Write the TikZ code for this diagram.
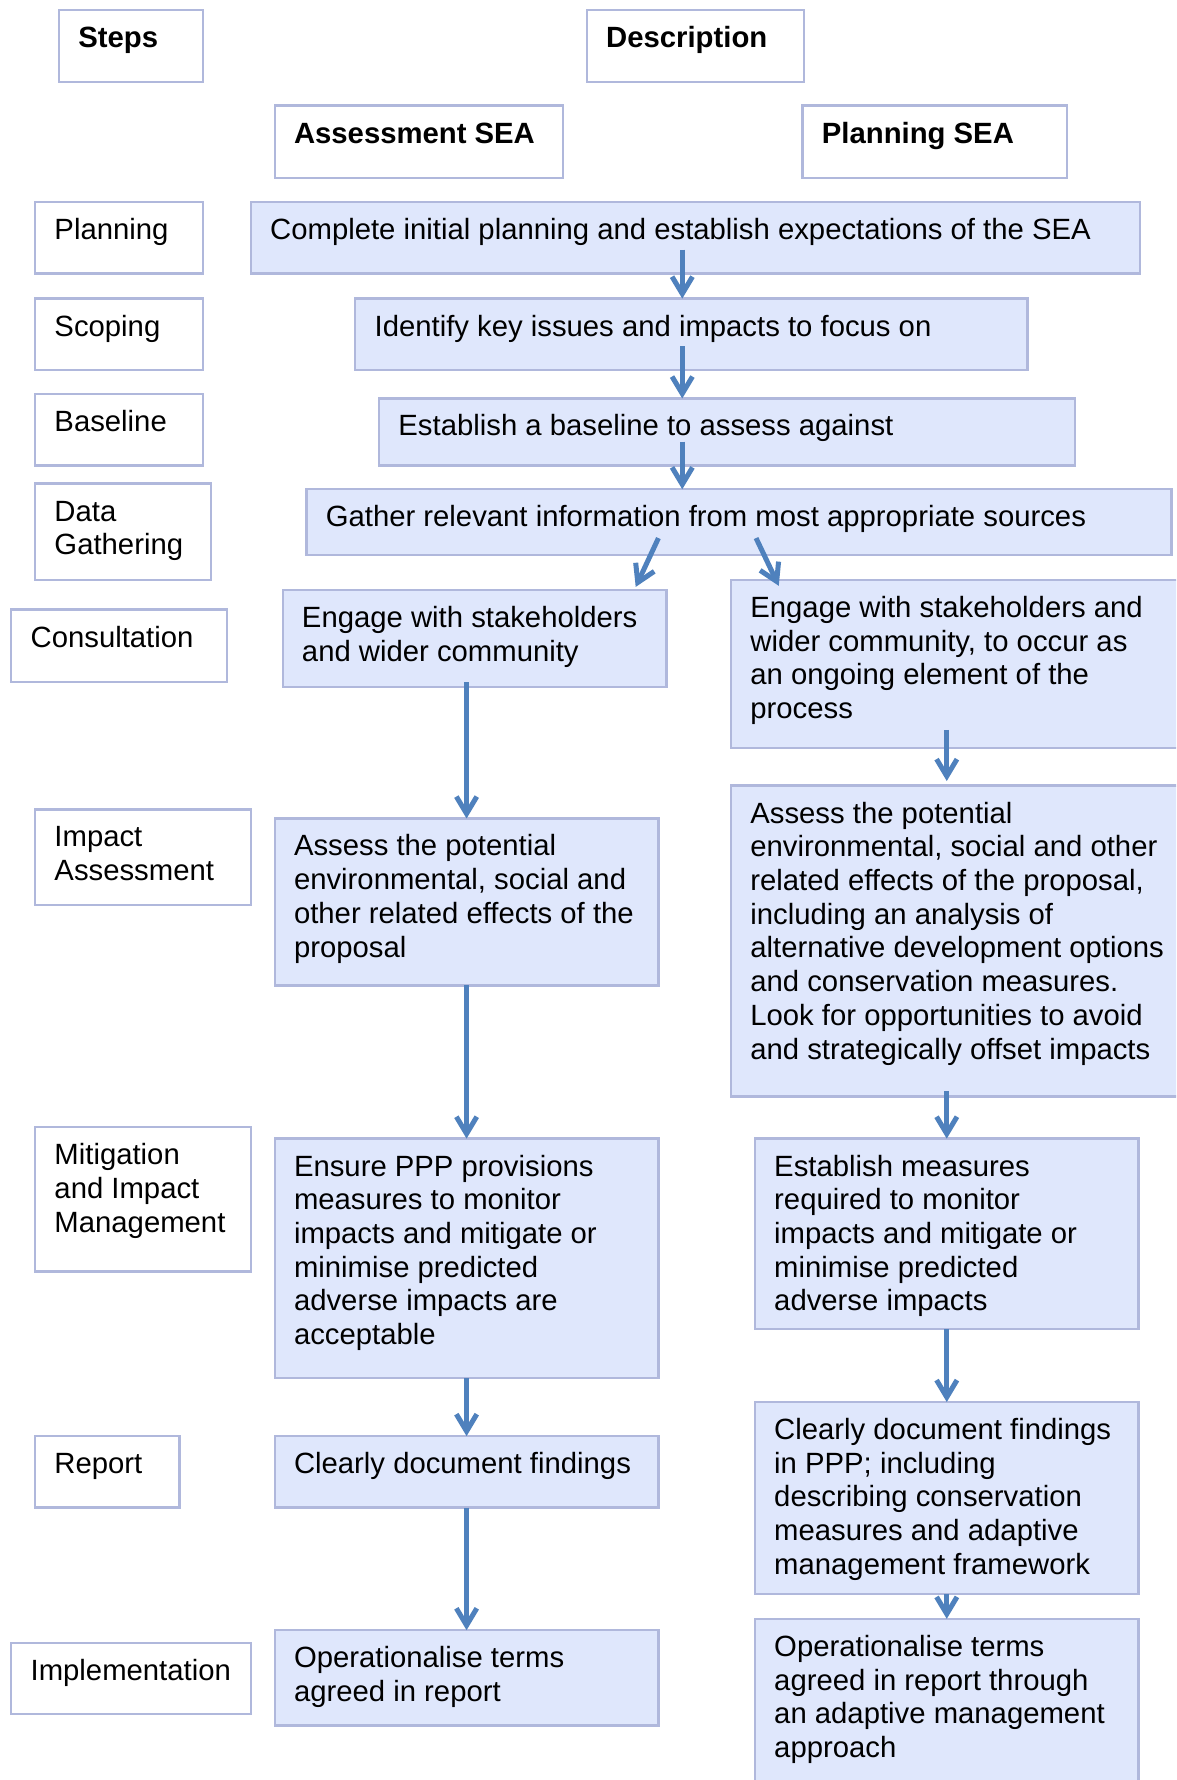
\documentclass[tikz,border=0pt]{standalone}
\usepackage{fontspec}
\setmainfont{Liberation Sans}
\usetikzlibrary{arrows.meta,calc}

\definecolor{boxfill}{RGB}{223,231,252}
\definecolor{boxline}{RGB}{176,184,220}
\definecolor{flow}{RGB}{79,129,189}

\tikzset{
  cell/.style={rectangle, draw=boxline, line width=1pt, inner sep=0pt, outer sep=0pt},
  stepcell/.style={cell, fill=white},
  flowcell/.style={cell, fill=boxfill},
  txt/.style={inner sep=0pt, outer sep=0pt, font=\fontsize{12.9pt}{14.85pt}\selectfont},
  arr/.style={draw=flow, line width=2.2pt, -{Straight Barb[length=7.5pt,width=9pt]}},
}

% left-aligned lines, baseline of the box = baseline of the first line
\newcommand\tlines[1]{\vtop{\let\\\cr\halign{##\hfil\cr#1\crcr}}}

% \mkbox{style}{name}{x1}{y1}{x2}{y2}{text}
\newcommand\mkbox[7]{%
  \node[#1, anchor=north west,
        minimum width={(#5-#3)*0.5pt}, minimum height={(#6-#4)*0.5pt}] (#2) at (#3,#4) {};
  \node[txt, anchor=base west] (#2-t) at ($(#2.north west)+(17,33)$) {\tlines{#7}};
}

\begin{document}
\begin{tikzpicture}[x=0.5pt, y=-0.5pt]
\path[use as bounding box] (0,0) rectangle (1036,1568);
\clip (0,0) rectangle (1036,1568);
\fill[white] (0,0) rectangle (1036,1568);

% column headers
\mkbox{stepcell}{hsteps}{52}{9}{179}{72}{\bfseries Steps}
\mkbox{stepcell}{hdesc}{517}{9}{708}{72}{\bfseries Description}
\mkbox{stepcell}{hassess}{242}{93}{496}{157}{\bfseries Assessment SEA}
\mkbox{stepcell}{hplan}{707}{93}{940}{157}{\bfseries Planning SEA}

% steps
\mkbox{stepcell}{s1}{31}{178}{179}{241}{Planning}
\mkbox{stepcell}{s2}{31}{263}{179}{326}{Scoping}
\mkbox{stepcell}{s3}{31}{347}{179}{410}{Baseline}
\mkbox{stepcell}{s4}{31}{426}{186}{511}{Data\\Gathering}
\mkbox{stepcell}{s5}{10}{537}{200}{601}{Consultation}
\mkbox{stepcell}{s6}{31}{713}{221}{797}{Impact\\Assessment}
\mkbox{stepcell}{s7}{31}{993}{221}{1120}{Mitigation\\and Impact\\Management}
\mkbox{stepcell}{s8}{31}{1265}{158}{1328}{Report}
\mkbox{stepcell}{s9}{10}{1447}{221}{1510}{Implementation}

% shared stages
\mkbox{flowcell}{b1}{221}{178}{1004}{241}{Complete initial planning and establish expectations of the SEA}
\mkbox{flowcell}{b2}{313}{263}{905}{326}{Identify key issues and impacts to focus on}
\mkbox{flowcell}{b3}{334}{351}{947}{410}{Establish a baseline to assess against}
\mkbox{flowcell}{b4}{270}{431}{1032}{489}{Gather relevant information from most appropriate sources}

% assessment SEA branch
\mkbox{flowcell}{a1}{249}{520}{587}{605}{Engage with stakeholders\\and wider community}
\mkbox{flowcell}{a2}{242}{721}{580}{868}{Assess the potential\\environmental, social and\\other related effects of the\\proposal}
\mkbox{flowcell}{a3}{242}{1003}{580}{1214}{Ensure PPP provisions\\measures to monitor\\impacts and mitigate or\\minimise predicted\\adverse impacts are\\acceptable}
\mkbox{flowcell}{a4}{242}{1265}{580}{1328}{Clearly document findings}
\mkbox{flowcell}{a5}{242}{1436}{580}{1520}{Operationalise terms\\agreed in report}

% planning SEA branch
\mkbox{flowcell}{p1}{644}{511}{1052}{659}{Engage with stakeholders and\\wider community, to occur as\\an ongoing element of the\\process}
\mkbox{flowcell}{p2}{644}{692}{1052}{966}{Assess the potential\\environmental, social and other\\related effects of the proposal,\\including an analysis of\\alternative development options\\and conservation measures.\\Look for opportunities to avoid\\and strategically offset impacts}
\mkbox{flowcell}{p3}{665}{1003}{1003}{1171}{Establish measures\\required to monitor\\impacts and mitigate or\\minimise predicted\\adverse impacts}
\mkbox{flowcell}{p4}{665}{1235}{1003}{1404}{Clearly document findings\\in PPP; including\\describing conservation\\measures and adaptive\\management framework}
\mkbox{flowcell}{p5}{665}{1426}{1003}{1590}{Operationalise terms\\agreed in report through\\an adaptive management\\approach}

% arrow columns
\coordinate (cmid) at (601,0);
\coordinate (cleft) at (411,0);
\coordinate (cright) at (834,0);

\draw[arr] ($(cmid |- b1.south)+(0,-21)$) -- (cmid |- b2.north);
\draw[arr] ($(cmid |- b2.south)+(0,-21)$) -- (cmid |- b3.north);
\draw[arr] ($(cmid |- b3.south)+(0,-21)$) -- (cmid |- b4.north);
\draw[arr] ($(580,0 |- b4.south)+(0,-15)$) -- ($(560,0 |- a1.north)+(0,-3)$);
\draw[arr] ($(666,0 |- b4.south)+(0,-15)$) -- ($(686,0 |- p1.north)+(0,5)$);

\draw[arr] ($(cleft |- a1.south)+(0,-4)$) -- (cleft |- a2.north);
\draw[arr] (cleft |- a2.south) -- (cleft |- a3.north);
\draw[arr] (cleft |- a3.south) -- (cleft |- a4.north);
\draw[arr] (cleft |- a4.south) -- (cleft |- a5.north);

\draw[arr] ($(cright |- p1.south)+(0,-16)$) -- ($(cright |- p2.north)+(0,-4)$);
\draw[arr] ($(cright |- p2.south)+(0,-5)$) -- (cright |- p3.north);
\draw[arr] (cright |- p3.south) -- (cright |- p4.north);
\draw[arr] (cright |- p4.south) -- (cright |- p5.north);
\end{tikzpicture}
\end{document}
